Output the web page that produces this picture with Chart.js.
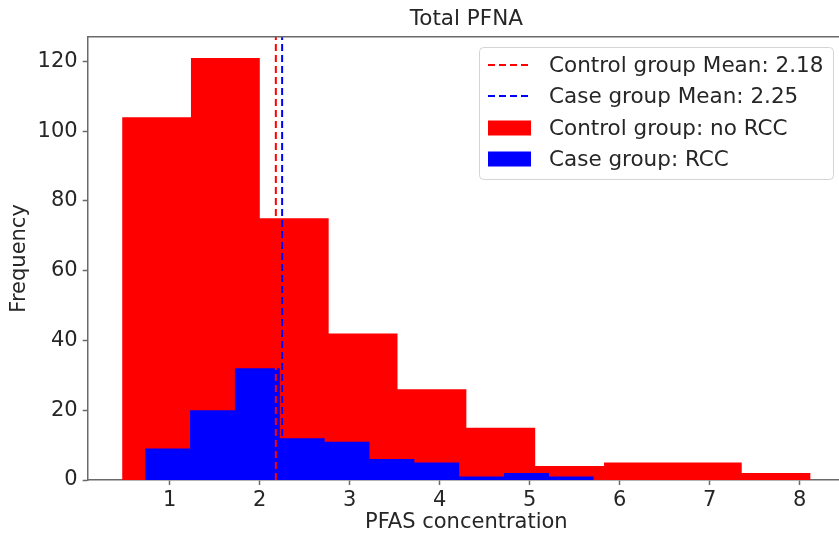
<!DOCTYPE html>
<html>
<head>
<meta charset="utf-8">
<script src="https://cdn.jsdelivr.net/npm/chart.js@4.4.1/dist/chart.umd.min.js"></script>
<style>
  html, body { margin: 0; padding: 0; background: #fff; overflow: hidden; }
  canvas { display: block; }
</style>
</head>
<body>
<canvas id="hist" width="850" height="536"></canvas>
<script>
// bin edges + counts
const controlEdges = [0.472, 1.237, 2.002, 2.767, 3.532, 4.297, 5.062, 5.827, 6.592, 7.357, 8.122];
const controlCounts = [104, 121, 75, 42, 26, 15, 4, 5, 5, 2];
const caseEdges = [0.728, 1.227, 1.725, 2.224, 2.722, 3.221, 3.719, 4.218, 4.716, 5.215, 5.713];
const caseCounts = [9, 20, 32, 12, 11, 6, 5, 1, 2, 1];
const controlMean = 2.18;
const caseMean = 2.25;
const xTicks = [1, 2, 3, 4, 5, 6, 7, 8];
const yTicks = [0, 20, 40, 60, 80, 100, 120];

const X_MIN = 0.0895, X_MAX = 8.5045, Y_MAX = 127.05;
const AXIS_COLOR = '#6a6a6a';
const TEXT_COLOR = '#262626';
const FONT = "'DejaVu Sans', sans-serif";

Chart.defaults.font.family = FONT;
Chart.defaults.color = TEXT_COLOR;

// step outline for a histogram: start at 0, one point per bin, back to 0
function histPoints(edges, counts) {
    const pts = [{ x: edges[0], y: 0 }];
    counts.forEach((c, i) => pts.push({ x: edges[i], y: c }));
    pts.push({ x: edges[edges.length - 1], y: 0 });
    return pts;
}

function meanLine(m) {
    return [{ x: m, y: 0 }, { x: m, y: Y_MAX }];
}

const legendItems = [
    { kind: 'line', color: '#ff0000', text: 'Control group Mean: ' + controlMean.toFixed(2) },
    { kind: 'line', color: '#0000ff', text: 'Case group Mean: ' + caseMean.toFixed(2) },
    { kind: 'patch', color: '#ff0000', text: 'Control group: no RCC' },
    { kind: 'patch', color: '#0000ff', text: 'Case group: RCC' },
];

const boxLegend = {
    id: 'boxLegend',
    afterDraw(chart) {
        const ctx = chart.ctx;
        const area = chart.chartArea;
        ctx.save();

        // top spine (matplotlib style box)
        ctx.strokeStyle = AXIS_COLOR;
        ctx.lineWidth = 1.5;
        ctx.beginPath();
        ctx.moveTo(area.left, area.top);
        ctx.lineTo(area.right, area.top);
        ctx.stroke();

        const x0 = 479, y0 = 47, w = 354, h = 132, r = 4;
        ctx.fillStyle = 'rgba(255,255,255,0.85)';
        ctx.strokeStyle = '#d4d4d4';
        ctx.lineWidth = 1;
        ctx.beginPath();
        ctx.roundRect(x0 + 0.5, y0 + 0.5, w, h, r);
        ctx.fill();
        ctx.stroke();

        ctx.font = '21.5px ' + FONT;
        ctx.textBaseline = 'middle';
        ctx.textAlign = 'left';
        const rowY = [65, 96, 128, 159];
        legendItems.forEach((item, i) => {
            const y = rowY[i];
            if (item.kind === 'line') {
                ctx.strokeStyle = item.color;
                ctx.lineWidth = 2;
                ctx.setLineDash([7, 4]);
                ctx.beginPath();
                ctx.moveTo(488, y);
                ctx.lineTo(530, y);
                ctx.stroke();
                ctx.setLineDash([]);
            } else {
                ctx.fillStyle = item.color;
                ctx.fillRect(488, y - 7.5, 43, 15);
            }
            ctx.fillStyle = TEXT_COLOR;
            ctx.fillText(item.text, 549, y + 1);
        });
        ctx.restore();
    }
};

new Chart(document.getElementById('hist').getContext('2d'), {
    type: 'line',
    data: {
        datasets: [
            {
                label: 'Control group Mean',
                data: meanLine(controlMean),
                borderColor: '#ff0000',
                borderWidth: 2,
                borderDash: [7, 4],
                pointRadius: 0,
                fill: false,
                order: 0,
            },
            {
                label: 'Case group Mean',
                data: meanLine(caseMean),
                borderColor: '#0000ff',
                borderWidth: 2,
                borderDash: [7, 4],
                pointRadius: 0,
                fill: false,
                order: 0,
            },
            {
                label: 'Case group: RCC',
                data: histPoints(caseEdges, caseCounts),
                stepped: 'before',
                borderWidth: 0,
                borderColor: 'rgba(0,0,0,0)',
                backgroundColor: '#0000ff',
                fill: 'origin',
                pointRadius: 0,
                order: 1,
            },
            {
                label: 'Control group: no RCC',
                data: histPoints(controlEdges, controlCounts),
                stepped: 'before',
                borderWidth: 0,
                borderColor: 'rgba(0,0,0,0)',
                backgroundColor: '#ff0000',
                fill: 'origin',
                pointRadius: 0,
                order: 2,
            },
        ]
    },
    options: {
        responsive: false,
        animation: false,
        layout: { padding: { left: 0, right: 5, top: 0, bottom: 0 } },
        plugins: {
            legend: { display: false },
            tooltip: { enabled: false },
            title: {
                display: true,
                text: 'Total PFNA',
                fullSize: false,
                color: TEXT_COLOR,
                font: { size: 21.5, weight: 'normal' },
                padding: { top: 7, bottom: 4 }
            }
        },
        scales: {
            x: {
                type: 'linear',
                min: X_MIN,
                max: X_MAX,
                z: 1,
                afterFit: (scale) => { scale.height = 56; },
                afterBuildTicks: (scale) => { scale.ticks = xTicks.map(v => ({ value: v })); },
                grid: { drawOnChartArea: false, drawTicks: true, tickLength: 5, tickColor: AXIS_COLOR, tickWidth: 1.5 },
                border: { display: true, color: AXIS_COLOR, width: 1.5 },
                ticks: { color: TEXT_COLOR, font: { size: 21 }, padding: 3, autoSkip: false, maxRotation: 0 },
                title: { display: true, text: 'PFAS concentration', color: TEXT_COLOR, font: { size: 21 }, padding: { top: 0, bottom: 1 } }
            },
            y: {
                type: 'linear',
                min: 0,
                max: Y_MAX,
                z: 1,
                afterFit: (scale) => { scale.width = 87.7; },
                afterBuildTicks: (scale) => { scale.ticks = yTicks.map(v => ({ value: v })); },
                grid: { drawOnChartArea: false, drawTicks: true, tickLength: 5, tickColor: AXIS_COLOR, tickWidth: 1.5 },
                border: { display: true, color: AXIS_COLOR, width: 1.5 },
                ticks: { color: TEXT_COLOR, font: { size: 21 }, padding: 5 },
                title: { display: true, text: 'Frequency', color: TEXT_COLOR, font: { size: 21 }, padding: { top: 7, bottom: 0 } }
            }
        }
    },
    plugins: [boxLegend]
});
</script>
</body>
</html>
